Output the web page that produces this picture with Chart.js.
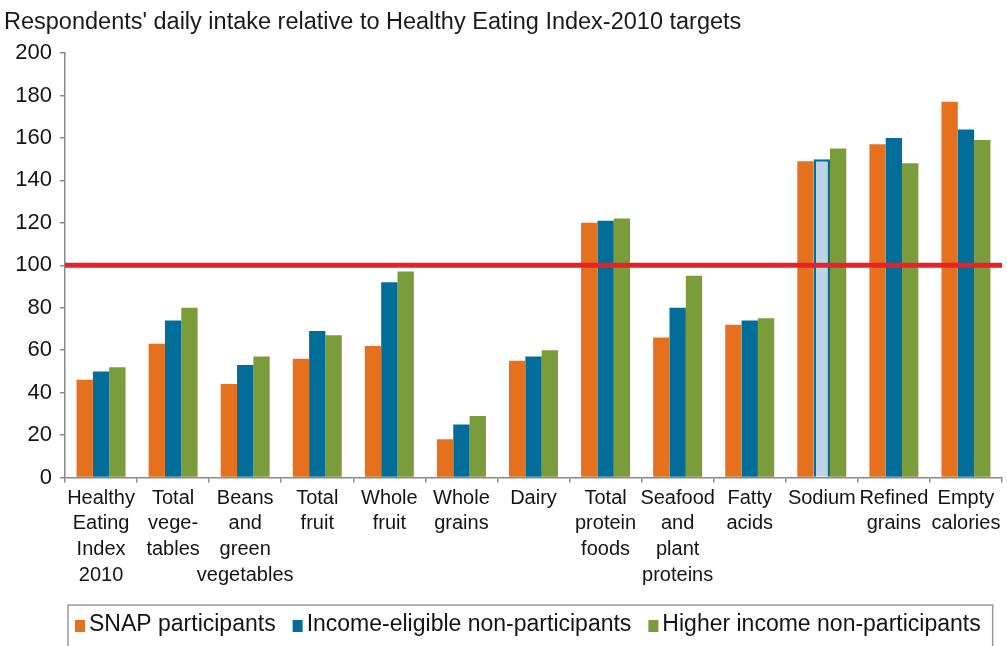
<!DOCTYPE html>
<html>
<head>
<meta charset="utf-8">
<script src="https://cdn.jsdelivr.net/npm/chart.js@4/dist/chart.umd.min.js"></script>
<style>
  html, body { margin: 0; padding: 0; background: #ffffff; }
  #wrap { width: 1007px; height: 646px; }
</style>
</head>
<body>
<div id="wrap"><canvas id="c" width="1007" height="646"></canvas></div>
<script>
// HEI-2010 component scores, percent of target, by respondent group
const titleText = "Respondents' daily intake relative to Healthy Eating Index-2010 targets";

const categories = [
  ["Healthy", "Eating", "Index", "2010"],
  ["Total", "vege-", "tables"],
  ["Beans", "and", "green", "vegetables"],
  ["Total", "fruit"],
  ["Whole", "fruit"],
  ["Whole", "grains"],
  ["Dairy"],
  ["Total", "protein", "foods"],
  ["Seafood", "and", "plant", "proteins"],
  ["Fatty", "acids"],
  ["Sodium"],
  ["Refined", "grains"],
  ["Empty", "calories"]
];

const seriesNames = [
  "SNAP participants",
  "Income-eligible non-participants",
  "Higher income non-participants"
];

const snapParticipants     = [46, 63, 44, 56, 62, 18, 55, 120, 66, 72, 149, 157, 177];
const incomeEligible       = [50, 74, 53, 69, 92, 25, 57, 121, 80, 74, 150, 160, 164];
const higherIncome         = [52, 80, 57, 67, 97, 29, 60, 122, 95, 75, 155, 148, 159];

const yMin = 0;
const yMax = 200;
const yStep = 20;
const targetLevel = 100;

const FONT = "'Liberation Sans', Arial, Helvetica, sans-serif";
const ORANGE = "#E5711F";
const BLUE = "#006E98";
const GREEN = "#7B9C3B";
const LIGHT_BLUE = "#BBD5E4";
const AXIS_GREY = "#8a8a8a";

const LEGEND_FONT = 23;
const LEGEND_PAD = 19.5;
const LEGEND_Y = 625;

// horizontal target line across the plot at the 100% level
const targetLine = {
  id: "targetLine",
  afterDatasetsDraw(chart) {
    const { ctx, chartArea } = chart;
    const y = chart.scales.y.getPixelForValue(targetLevel);
    ctx.save();
    ctx.strokeStyle = "#E8202A";
    ctx.lineWidth = 5;
    ctx.beginPath();
    ctx.moveTo(chartArea.left, y);
    ctx.lineTo(chartArea.right, y);
    ctx.stroke();
    ctx.restore();
  }
};

// place title and legend row, then draw legend swatches and the frame around them
const legendFrame = {
  id: "legendFrame",
  afterLayout(chart) {
    const tb = chart.titleBlock;
    if (tb) { tb.left += 4; tb.right += 4; }
    const lg = chart.legend;
    const dx = 58 - lg.left;
    lg.left += dx;
    lg.right += dx;
    const center = lg.top + LEGEND_PAD + LEGEND_FONT / 2;
    const dy = LEGEND_Y - center;
    lg.top += dy;
    lg.bottom += dy;
  },
  afterDraw(chart) {
    const lg = chart.legend;
    const boxes = lg.legendHitBoxes;
    const items = lg.legendItems;
    if (!boxes || !boxes.length) return;
    const { ctx } = chart;
    ctx.save();
    let cy = LEGEND_Y;
    boxes.forEach((hb, i) => {
      const textStart = hb.left + LEGEND_FONT / 2;
      cy = hb.top + hb.height / 2;
      ctx.fillStyle = items[i].fillStyle;
      ctx.fillRect(textStart - 14, cy - 5, 10, 12);
    });
    const first = boxes[0];
    const last = boxes[boxes.length - 1];
    const l = first.left + LEGEND_FONT / 2 - 21;
    const r = last.left + last.width + 12;
    const t = cy - 20;
    ctx.strokeStyle = "#9a9a9a";
    ctx.lineWidth = 1.5;
    ctx.beginPath();
    ctx.moveTo(l, chart.height + 2);
    ctx.lineTo(l, t);
    ctx.lineTo(r, t);
    ctx.lineTo(r, chart.height + 2);
    ctx.stroke();
    ctx.restore();
  }
};

const datasets = [
  {
    label: seriesNames[0],
    data: snapParticipants,
    backgroundColor: ORANGE,
    borderColor: ORANGE,
    borderWidth: 0
  },
  {
    label: seriesNames[1],
    data: incomeEligible,
    backgroundColor: (c) => (c.dataIndex === 10 ? LIGHT_BLUE : BLUE),
    borderColor: BLUE,
    borderWidth: (c) => (c.dataIndex === 10 ? 2.5 : 0)
  },
  {
    label: seriesNames[2],
    data: higherIncome,
    backgroundColor: GREEN,
    borderColor: GREEN,
    borderWidth: 0
  }
];

new Chart(document.getElementById("c"), {
  type: "bar",
  data: { labels: categories, datasets },
  options: {
    responsive: false,
    animation: false,
    devicePixelRatio: 1,
    layout: { padding: { left: 0, right: 5, top: 0, bottom: 0 } },
    datasets: {
      bar: { categoryPercentage: 0.68, barPercentage: 1.0 }
    },
    scales: {
      x: {
        grid: {
          offset: true,
          drawOnChartArea: false,
          drawTicks: true,
          tickLength: 5,
          color: AXIS_GREY,
          lineWidth: 1.5
        },
        border: { display: true, color: AXIS_GREY, width: 1.5 },
        ticks: {
          color: "#141414",
          font: { family: FONT, size: 20, lineHeight: 1.28 },
          padding: 3,
          maxRotation: 0,
          autoSkip: false
        },
        afterFit(scale) { scale.height = 116; }
      },
      y: {
        min: yMin,
        max: yMax,
        grid: {
          drawOnChartArea: false,
          drawTicks: true,
          tickLength: 5,
          color: AXIS_GREY,
          lineWidth: 1.5
        },
        border: { display: true, color: AXIS_GREY, width: 1.5 },
        ticks: {
          stepSize: yStep,
          color: "#141414",
          font: { family: FONT, size: 22 },
          padding: 8
        },
        afterFit(scale) { scale.width = 65; }
      }
    },
    plugins: {
      title: {
        display: true,
        text: titleText,
        align: "start",
        color: "#1a1a1a",
        font: { family: FONT, size: 23.5, weight: "normal" },
        padding: { top: 8, bottom: 16.8 }
      },
      legend: {
        display: true,
        position: "bottom",
        align: "start",
        labels: {
          color: "#141414",
          font: { family: FONT, size: LEGEND_FONT },
          boxWidth: 0,
          boxHeight: 0,
          padding: LEGEND_PAD
        }
      },
      tooltip: { enabled: false }
    }
  },
  plugins: [targetLine, legendFrame]
});
</script>
</body>
</html>
